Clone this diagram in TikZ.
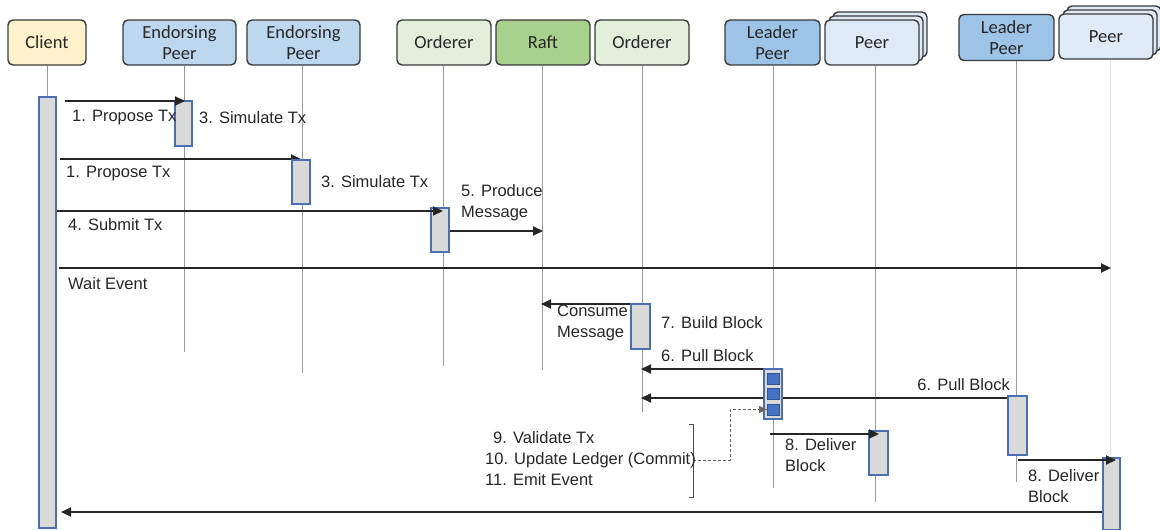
\documentclass[tikz,border=0pt]{standalone}
\usepackage{fontspec}
\setmainfont{Liberation Sans}
\newfontfamily\hdrfont{Carlito}
\usetikzlibrary{arrows.meta,calc}
\definecolor{cYel}{HTML}{FFF2CC}
\definecolor{cEnd}{HTML}{BDD7EE}
\definecolor{cOrd}{HTML}{E2EFDA}
\definecolor{cRaft}{HTML}{A9D18E}
\definecolor{cLead}{HTML}{9DC3E6}
\definecolor{cPeer}{HTML}{DEEBF7}
\definecolor{cEdge}{HTML}{3A3A3A}
\definecolor{cAct}{HTML}{D9D9D9}
\definecolor{cActB}{HTML}{4A6FB5}
\definecolor{cSq}{HTML}{4472C4}
\definecolor{cSqB}{HTML}{2F5597}
\definecolor{cTxt}{HTML}{262626}
\tikzset{
  hd/.style={draw=cEdge, line width=1.4pt, rounded corners=5pt, align=center,
    font=\hdrfont\fontsize{18.5}{21}\selectfont, text=cTxt, inner sep=0pt},
  life/.style={draw=gray!80, line width=0.8pt},
  act/.style={draw=cActB, fill=cAct, line width=1.4pt, inner sep=0pt},
  sq/.style={draw=cSqB, fill=cSq, line width=0.8pt, inner sep=0pt, minimum width=12pt, minimum height=11pt},
  msg/.style={draw=black!85, line width=2.1pt, -{Triangle[length=10pt,width=9pt]}},
  lbl/.style={font=\fontsize{16.5}{21}\selectfont, text=cTxt, anchor=west, inner sep=0pt, align=left}
}
\begin{document}
\begin{tikzpicture}[x=1pt,y=-1pt]
\useasboundingbox (0,0) rectangle (1160,530);
% headers
\node[hd, fill=cYel, minimum width=78pt, minimum height=45pt] (client) at (47,42.5) {Client};
\node[hd, fill=cEnd, minimum width=113pt, minimum height=45pt] (ep1) at (179.5,42.5) {Endorsing\\Peer};
\node[hd, fill=cEnd, minimum width=113pt, minimum height=45pt] (ep2) at (303.5,42.5) {Endorsing\\Peer};
\node[hd, fill=cOrd, minimum width=94pt, minimum height=45pt] (ord1) at (444,42.5) {Orderer};
\node[hd, fill=cRaft, minimum width=94pt, minimum height=45pt] (raft) at (543,42.5) {Raft};
\node[hd, fill=cOrd, minimum width=94pt, minimum height=45pt] (ord2) at (642,42.5) {Orderer};
\node[hd, fill=cLead, minimum width=95pt, minimum height=45pt] (lp1) at (772.5,42.5) {Leader\\Peer};
\node[hd, fill=cPeer, minimum width=94pt, minimum height=45pt] (p1c) at (880,34.5) {};
\node[hd, fill=cPeer, minimum width=94pt, minimum height=45pt] (p1b) at (876,38.5) {};
\node[hd, fill=cPeer, minimum width=94pt, minimum height=45pt] (p1) at (872,42.5) {Peer};
\node[hd, fill=cLead, minimum width=95pt, minimum height=46pt] (lp2) at (1006.5,37.5) {Leader\\Peer};
\node[hd, fill=cPeer, minimum width=94pt, minimum height=45pt] (p2c) at (1114,28.5) {};
\node[hd, fill=cPeer, minimum width=94pt, minimum height=45pt] (p2b) at (1110,32.5) {};
\node[hd, fill=cPeer, minimum width=94pt, minimum height=45pt] (p2) at (1106,36.5) {Peer};
% lifeline ends
\coordinate (e0) at (47,97);
\coordinate (e1) at (184,352);
\coordinate (e2) at (302,373);
\coordinate (e3) at (443,366);
\coordinate (e4) at (542,370);
\coordinate (e5) at (642,412);
\coordinate (e6) at (773,488);
\coordinate (e7) at (875,502);
\coordinate (e8) at (1016,482);
\coordinate (e9) at (1110,528);
\draw[life] (client.south) -- (e0);
\draw[life] (e1 |- ep1.south) -- (e1);
\draw[life] (e2 |- ep2.south) -- (e2);
\draw[life] (e3 |- ord1.south) -- (e3);
\draw[life] (e4 |- raft.south) -- (e4);
\draw[life] (e5 |- ord2.south) -- (e5);
\draw[life] (e6 |- lp1.south) -- (e6);
\draw[life] (e7 |- p1.south) -- (e7);
\draw[life] (e8 |- lp2.south) -- (e8);
\draw[draw=gray!20, line width=0.8pt] (e9 |- p2.south) -- (e9);
% message end points
\coordinate (m1a) at (65,101);   \coordinate (m1b) at (185,101);
\coordinate (m2a) at (60,159);   \coordinate (m2b) at (301,159);
\coordinate (m3a) at (57,211);   \coordinate (m3b) at (443,211);
\coordinate (m4a) at (449,231);  \coordinate (m4b) at (543,231);
\coordinate (m5a) at (59,268);   \coordinate (m5b) at (1111,268);
\coordinate (m6a) at (640,304);  \coordinate (m6b) at (541,304);
\coordinate (m7a) at (764,369);  \coordinate (m7b) at (641,369);
\coordinate (m8a) at (1008,398); \coordinate (m8b) at (641,398);
\coordinate (m9a) at (770,434);  \coordinate (m9b) at (879,434);
\coordinate (m10a) at (1018,460);\coordinate (m10b) at (1116,460);
\coordinate (m11a) at (1103,512);\coordinate (m11b) at (61,512);
\draw[msg] (m2a) -- (m2b);
\draw[msg] (m4a) -- (m4b);
\draw[msg] (m5a) -- (m5b);
\draw[msg] (m6a) -- (m6b);
\draw[msg] (m7a) -- (m7b);
\draw[msg] (m8a) -- (m8b);
\draw[msg] (m11a) -- (m11b);
% activation bars
\node[act, minimum width=17pt, minimum height=431pt] (ac0) at (47.5,312.5) {};
\node[act, minimum width=17pt, minimum height=45pt] (ac1) at (183.5,123.5) {};
\node[act, minimum width=18pt, minimum height=44pt] (ac2) at (301,182) {};
\node[act, minimum width=18pt, minimum height=44pt] (ac3) at (440,230) {};
\node[act, minimum width=19pt, minimum height=45pt] (ac4) at (640.5,326.5) {};
\node[act, minimum width=18pt, minimum height=50pt] (ac5) at (773,394) {};
\node[act, minimum width=19pt, minimum height=44pt] (ac6) at (878.5,453) {};
\node[act, minimum width=19pt, minimum height=59pt] (ac7) at (1017.5,425.5) {};
\node[act, minimum width=17pt, minimum height=72pt] (ac8) at (1111.5,494) {};
\node[sq] (s1) at (773.5,378.5) {};
\node[sq] (s2) at (773.5,394) {};
\node[sq] (s3) at (773.5,409.5) {};
% arrows drawn over bars
\draw[msg] (m1a) -- (m1b);
\draw[msg] (m3a) -- (m3b);
\draw[msg] (m9a) -- (m9b);
\draw[msg] (m10a) -- (m10b);
% bracket and dashed link
\coordinate (bt) at (693,424);
\coordinate (bb) at (693,497);
\coordinate (bm) at (693,460);
\coordinate (bk) at (730,460);
\draw[draw=black!70, line width=0.8pt] ($(bt)+(-4,0)$) -- (bt) -- (bb) -- ($(bb)+(-4,0)$);
\draw[draw=black!60, line width=0.8pt, dash pattern=on 3pt off 2pt, -{Triangle[length=8pt,width=7pt]}] (bm) -- (bk) |- (s3.west);
% labels
\node[lbl] (l1) at (72,118) {1. Propose Tx};
\node[lbl] (l2) at (199,118) {3. Simulate Tx};
\node[lbl] (l3) at (66,174) {1. Propose Tx};
\node[lbl] (l4) at (321,182) {3. Simulate Tx};
\node[lbl] (l5) at (461,203) {5. Produce\\Message};
\node[lbl] (l6) at (68,225) {4. Submit Tx};
\node[lbl] (l7) at (68,284) {Wait Event};
\node[lbl] (l8) at (557,323) {Consume\\Message};
\node[lbl] (l9) at (661,323) {7. Build Block};
\node[lbl] (l10) at (661,356) {6. Pull Block};
\node[lbl, anchor=east] (l11) at (1010,385) {6. Pull Block};
\node[lbl] (l12) at (493,438) {9. Validate Tx};
\node[lbl] (l13) at (485,460) {10. Update Ledger (Commit)};
\node[lbl] (l14) at (485,480) {11. Emit Event};
\node[lbl] (l15) at (785,455) {8. Deliver\\Block};
\node[lbl] (l16) at (1028,486) {8. Deliver\\Block};
\end{tikzpicture}
\end{document}
